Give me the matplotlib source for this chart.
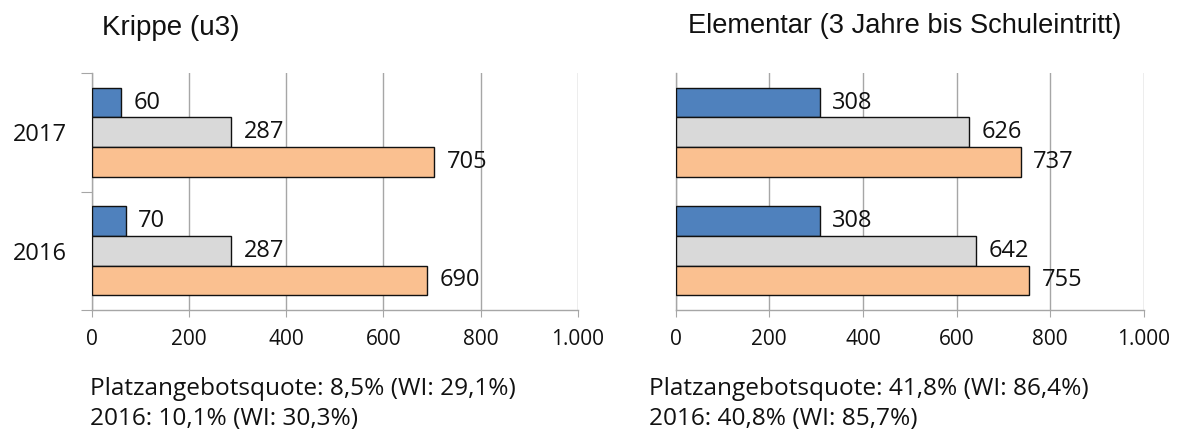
import numpy as np
import matplotlib.pyplot as plt
from matplotlib.ticker import FuncFormatter, FixedLocator

# --- data ---
years = ['2016', '2017']
krippe_blue = [70, 60]
krippe_grey = [287, 287]
krippe_orange = [690, 705]
elem_blue = [308, 308]
elem_grey = [642, 626]
elem_orange = [755, 737]

titles = ['Krippe (u3)', 'Elementar (3 Jahre bis Schuleintritt)']
notes = [
    ['Platzangebotsquote: 8,5% (WI: 29,1%)', '2016: 10,1% (WI: 30,3%)'],
    ['Platzangebotsquote: 41,8% (WI: 86,4%)', '2016: 40,8% (WI: 85,7%)'],
]

BLUE = '#4f81bd'
GREY = '#d9d9d9'
ORANGE = '#fac090'
LINE = '#a6a6a6'

plt.rcParams['font.family'] = ['Open Sans', 'DejaVu Sans']

W, H = 1178, 433
fig = plt.figure(figsize=(W / 100, H / 100), dpi=100)

# axes boxes in pixels: (x0, x1, y_top, y_bottom)
boxes = [(91.5, 578, 73, 310), (675.5, 1144, 73, 310)]
panels = [
    (krippe_blue, krippe_grey, krippe_orange),
    (elem_blue, elem_grey, elem_orange),
]

def thousands(v, pos):
    return f'{int(v):,}'.replace(',', '.')

y = np.arange(len(years))
h = 0.25

for i, (box, vals) in enumerate(zip(boxes, panels)):
    x0, x1, yt, yb = box
    ax = fig.add_axes([x0 / W, 1 - yb / H, (x1 - x0) / W, (yb - yt) / H])
    blue, grey, orange = vals
    b1 = ax.barh(y + h, blue, height=h, color=BLUE, edgecolor='#111111', linewidth=1, zorder=3)
    b2 = ax.barh(y, grey, height=h, color=GREY, edgecolor='#111111', linewidth=1, zorder=3)
    b3 = ax.barh(y - h, orange, height=h, color=ORANGE, edgecolor='#111111', linewidth=1, zorder=3)
    for bars in (b1, b2, b3):
        ax.bar_label(bars, padding=9, fontsize=17, color='#111111')

    ax.set_xlim(0, 1000)
    ax.set_ylim(-0.5, 1.5)
    ax.set_xticks(np.arange(0, 1001, 200))
    ax.xaxis.set_major_formatter(FuncFormatter(thousands))
    ax.grid(axis='x', color=LINE, linewidth=1, zorder=0)
    ax.tick_params(axis='x', length=5, color=LINE, labelsize=15, pad=9, labelcolor='#111111')

    for s in ('top', 'right'):
        ax.spines[s].set_visible(False)
    for s in ('left', 'bottom'):
        ax.spines[s].set_color(LINE)
        ax.spines[s].set_linewidth(1)

    # category boundaries as ticks, year labels between them
    if i == 0:
        ax.yaxis.set_major_locator(FixedLocator([-0.5, 0.5, 1.5]))
        ax.yaxis.set_major_formatter(FuncFormatter(lambda v, p: ''))
        ax.tick_params(axis='y', which='major', length=8, color=LINE)
        ax.set_yticks(y, minor=True)
        ax.set_yticklabels(years, minor=True)
        ax.tick_params(axis='y', which='minor', length=0, labelsize=17, pad=18,
                       labelcolor='#111111')
    else:
        ax.set_yticks([])

# titles
fig.text(102 / W, 1 - 35 / H, titles[0], family='Liberation Sans', fontsize=20,
         va='baseline', ha='left', color='#111111')
fig.text(688 / W, 1 - 33 / H, titles[1], family='Liberation Sans', fontsize=19.6,
         va='baseline', ha='left', color='#111111')

# notes under the charts, one line at a time
for xs, lines in zip([90, 649], notes):
    for k, txt in enumerate(lines):
        fig.text(xs / W, 1 - (395 + 30 * k) / H, txt, fontsize=17.6, va='baseline',
                 ha='left', color='#111111')

fig.savefig('out.png', dpi=100)
